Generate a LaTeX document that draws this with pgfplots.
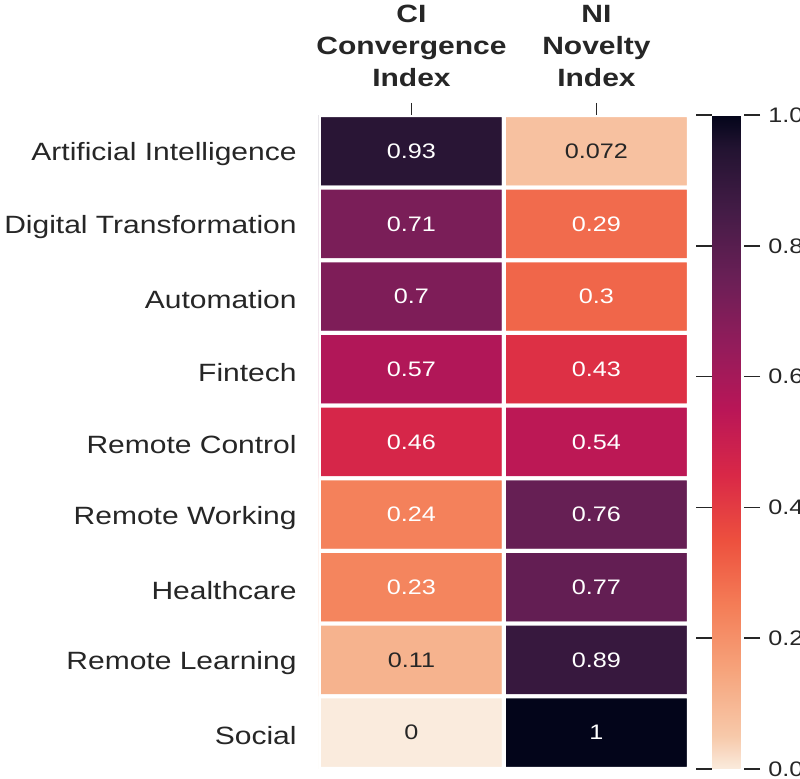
\documentclass[border=0pt]{standalone}
\usepackage{fontspec}
\setmainfont{Liberation Sans}[FakeStretch=1.2]
\usepackage{pgfplots}
\usepackage{pgfplotstable}
\pgfplotsset{compat=1.18}
\definecolor{txt}{RGB}{38,38,38}
\pgfplotstableread{
x y c
0 0 0.93
1 0 0.072
0 1 0.71
1 1 0.29
0 2 0.70
1 2 0.30
0 3 0.57
1 3 0.43
0 4 0.46
1 4 0.54
0 5 0.24
1 5 0.76
0 6 0.23
1 6 0.77
0 7 0.11
1 7 0.89
0 8 0.0
1 8 1.0
}\cells
\pgfplotstableread{
x y lbl
0 0 0.93
0 1 0.71
1 1 0.29
0 2 0.7
1 2 0.3
0 3 0.57
1 3 0.43
0 4 0.46
1 4 0.54
0 5 0.24
1 5 0.76
0 6 0.23
1 6 0.77
1 7 0.89
1 8 1
}\whitelbl
\pgfplotstableread{
x y lbl
1 0 0.072
0 7 0.11
0 8 0
}\darklbl
\begin{document}
\begin{tikzpicture}
\begin{axis}[
  name=hm,
  at={(0,0)}, anchor=south west,
  scale only axis,
  width=185pt, height=327pt,
  xmin=-0.5, xmax=1.5, ymin=-0.5, ymax=8.5,
  y dir=reverse,
  axis line style={draw=none},
  xtick={0,1},
  xticklabels={{CI\\Convergence\\Index},{NI\\Novelty\\Index}},
  xticklabel pos=right,
  xtick pos=right,
  xtick style={draw=txt, line width=0.8pt},
  tick align=outside,
  major tick length=6pt,
  xticklabel style={align=center, font=\fontsize{12.5}{16}\selectfont\bfseries, text=txt, inner sep=2pt, yshift=6pt},
  ytick={0,...,8},
  yticklabels={Artificial Intelligence,Digital Transformation,Automation,Fintech,Remote Control,Remote Working,Healthcare,Remote Learning,Social},
  ytick style={draw=none},
  yticklabel style={font=\fontsize{12.5}{15}\selectfont, text=txt, inner sep=0pt, xshift=-5pt, yshift=-1.5pt},
  colormap={rocketr}{rgb255(0pt)=(250,235,221) rgb255(1pt)=(247,201,170) rgb255(3pt)=(246,164,124) rgb255(5pt)=(244,125,87) rgb255(7pt)=(237,80,62) rgb255(9pt)=(217,40,71) rgb255(11pt)=(185,22,87) rgb255(13pt)=(146,28,91) rgb255(15pt)=(106,31,86) rgb255(17pt)=(69,28,71) rgb255(19pt)=(34,19,49) rgb255(20pt)=(3,5,26)},
  point meta min=0, point meta max=1,
  colorbar,
  colorbar style={
    at={(parent axis.north east)}, anchor=north west, xshift=3pt,
    width=16pt,
    axis line style={draw=none},
    ytick={0,0.2,0.4,0.6,0.8,1.0},
    yticklabel={\pgfmathprintnumber[fixed,precision=1,fixed zerofill,assume math mode=true]{\tick}},
    yticklabel style={font=\fontsize{10.5}{12}\selectfont, text=txt, inner sep=0pt, xshift=4pt},
    tick align=outside,
    major tick length=8pt,
    ytick style={draw=txt, line width=0.8pt},
  },
]
\addplot[matrix plot*, mesh/cols=2, point meta=explicit, draw=white, line width=2pt] table[x=x, y=y, meta=c] {\cells};
\addplot[only marks, mark=none, point meta=explicit symbolic, nodes near coords, nodes near coords align={center}, every node near coord/.append style={text=white, font=\fontsize{10.5}{12}\selectfont}] table[x=x, y=y, meta=lbl] {\whitelbl};
\addplot[only marks, mark=none, point meta=explicit symbolic, nodes near coords, nodes near coords align={center}, every node near coord/.append style={text=txt, font=\fontsize{10.5}{12}\selectfont}] table[x=x, y=y, meta=lbl] {\darklbl};
\end{axis}
\pgfresetboundingbox
\path[use as bounding box] (-159.5pt,-5pt) rectangle (240.5pt,384.5pt);
\end{tikzpicture}
\end{document}
